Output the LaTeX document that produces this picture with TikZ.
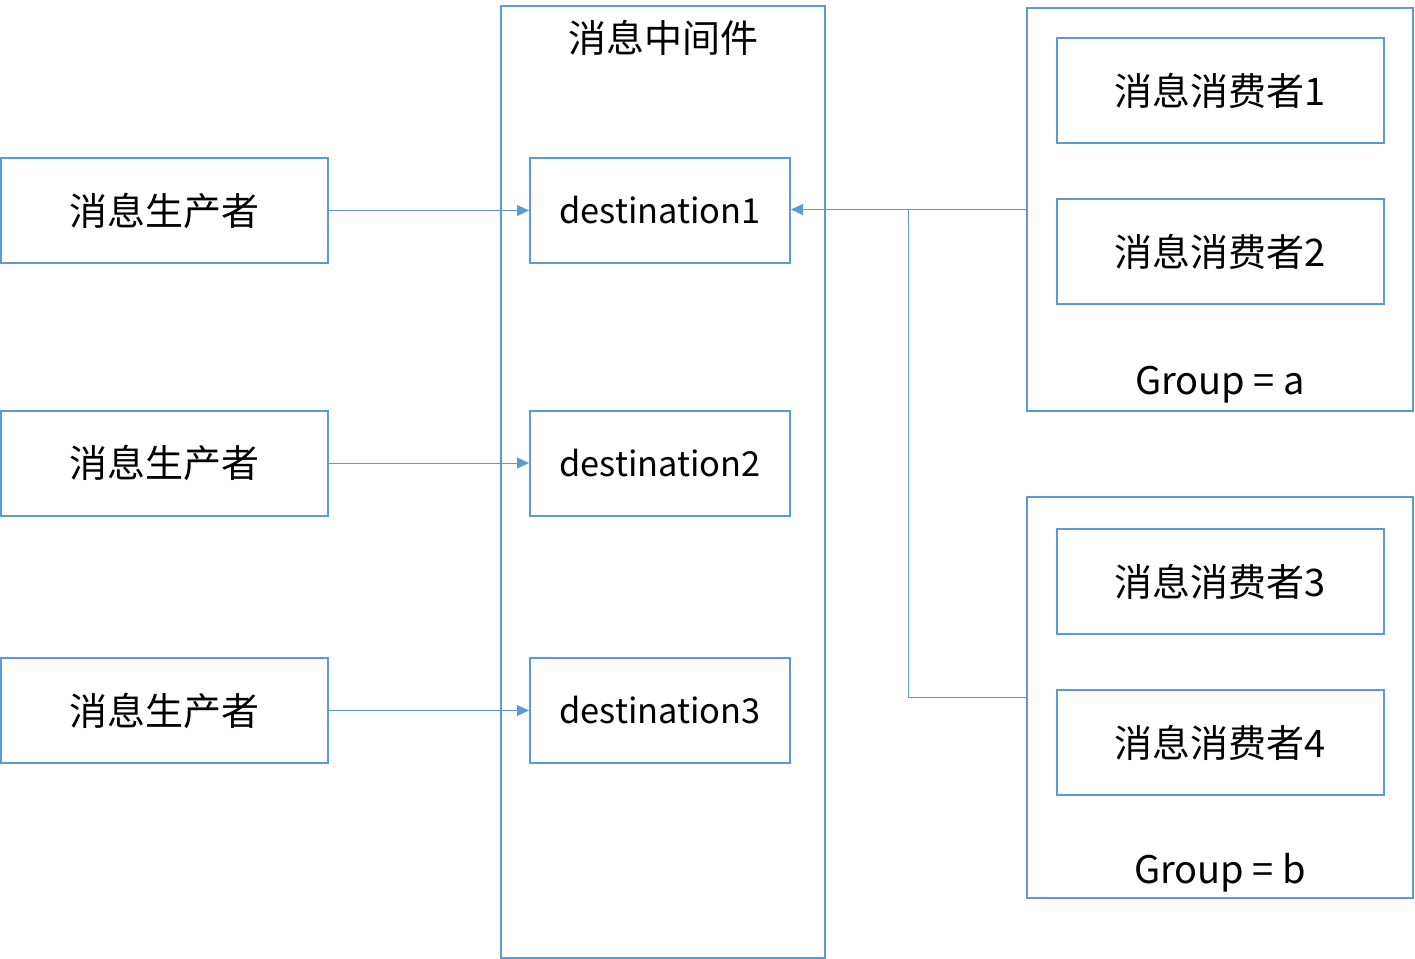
\documentclass[tikz,border=0pt]{standalone}
\usepackage{fontspec}
\setmainfont{Noto Sans CJK SC}
\usetikzlibrary{arrows.meta}
\definecolor{boxblue}{HTML}{5B9BD5}
\newcommand\bigfont{\fontsize{19}{23}\selectfont}
\newcommand\destfont{\fontsize{17.2}{21}\selectfont}
\tikzset{
  framebox/.style = {draw = boxblue, line width = 1pt, inner sep = 0pt},
  prodbox/.style = {framebox, minimum width = 163.5pt, minimum height = 52.5pt, font = \bigfont},
  destbox/.style = {framebox, minimum width = 130pt, minimum height = 52.5pt, font = \destfont},
  consbox/.style = {framebox, minimum width = 163.5pt, minimum height = 52.5pt, font = \bigfont},
  link/.style = {draw = boxblue, line width = 0.5pt, -{Triangle[length = 6pt, width = 5.5pt]}},
}
\begin{document}
\begin{tikzpicture}[x = 0.5pt, y = -0.5pt]
\useasboundingbox (0,0) rectangle (1415,959);
% middleware
\node[framebox, minimum width = 162pt, minimum height = 476pt] (mq) at (663,482) {};
\node[font = \bigfont] (mqtitle) at (663,38) {消息中间件};
\foreach \i/\y in {1/210.5,2/463,3/710.5} {
  \node[prodbox] (p\i) at (164.5,\y) {消息生产者};
  \node[destbox] (d\i) at (660,\y) {destination\i};
  \draw[link] (p\i) -- (d\i);
}
% consumer groups
\node[framebox, minimum width = 193pt, minimum height = 201.5pt] (ga) at (1220,209.5) {};
\node[consbox] (c1) at (1220.5,90.5) {消息消费者1};
\node[consbox] (c2) at (1220.5,251.5) {消息消费者2};
\node[font = \bigfont] (galabel) at (1220,385) {Group = a};
\node[framebox, minimum width = 193pt, minimum height = 200.5pt] (gb) at (1220,697.5) {};
\node[consbox] (c3) at (1220.5,581.5) {消息消费者3};
\node[consbox] (c4) at (1220.5,742.5) {消息消费者4};
\node[font = \bigfont] (gblabel) at (1220,873) {Group = b};
% subscriptions
\coordinate (join) at (908,210);
\draw[link] (ga.west) -- (ga.west -| d1.east);
\draw[link, -] (gb.west) -| (join);
\end{tikzpicture}
\end{document}
